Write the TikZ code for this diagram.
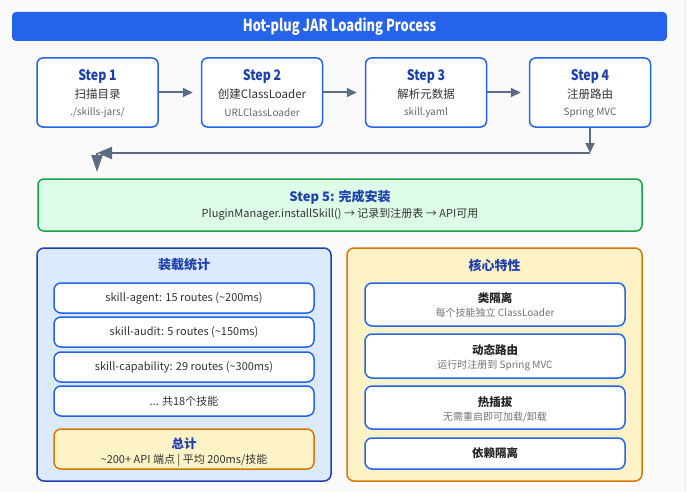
\documentclass[tikz,border=0pt]{standalone}
\usepackage{fontspec}
\setmainfont{Noto Sans CJK SC}
\usetikzlibrary{arrows.meta}
\definecolor{cardbg}{HTML}{FAFAFA}
\definecolor{cardedge}{HTML}{E5E7EB}
\definecolor{mainblue}{HTML}{2563EB}
\definecolor{darkblue}{HTML}{1E40AF}
\definecolor{arrowc}{HTML}{5B6B82}
\definecolor{txtdark}{HTML}{333333}
\definecolor{txtgray}{HTML}{5F6670}
\definecolor{greenfill}{HTML}{DCFCE7}
\definecolor{greenedge}{HTML}{16A34A}
\definecolor{bluefill}{HTML}{DBEAFE}
\definecolor{yelfill}{HTML}{FEF3C7}
\definecolor{orangeedge}{HTML}{D97706}
\newcommand{\narrowtxt}[2]{\scalebox{#1}[1]{#2}}
\tikzset{
  titlebar/.style={fill=mainblue, rounded corners=4pt, minimum width=655pt, minimum height=29pt, inner sep=0pt,
    text=white, font=\fontsize{16.5}{19}\selectfont\bfseries},
  stepbox/.style={draw=mainblue, fill=white, line width=1.5pt, rounded corners=6pt, minimum width=121pt, minimum height=69pt, inner sep=0pt},
  ttl/.style={text=darkblue, font=\fontsize{14.5}{17}\selectfont\bfseries, inner sep=0pt},
  mid/.style={text=txtdark, font=\fontsize{11.5}{14}\selectfont, inner sep=0pt},
  sub/.style={text=txtgray, font=\fontsize{10}{12}\selectfont, inner sep=0pt},
  arr/.style={draw=arrowc, line width=2pt, -{Triangle[length=10pt,width=9pt]}},
  panel/.style={line width=1.5pt, rounded corners=7pt, minimum width=294pt, minimum height=233pt, inner sep=0pt},
  itembox/.style={draw=mainblue, fill=white, line width=1.5pt, rounded corners=7pt, minimum width=260pt, inner sep=0pt},
  itemtxt/.style={text=txtdark, font=\fontsize{11}{13}\selectfont, inner sep=0pt},
  ptitle/.style={text=darkblue, font=\fontsize{13}{15}\selectfont\bfseries, inner sep=0pt},
  ftitle/.style={text=black!85, font=\fontsize{11.5}{14}\selectfont\bfseries, inner sep=0pt},
}
\begin{document}
\begin{tikzpicture}[x=1pt,y=-1pt]
\useasboundingbox (0,0) rectangle (690,492);
\fill[white] (0,0) rectangle (690,492);
\begin{scope}
\clip (0,0) rectangle (690,492);
\draw[rounded corners=8pt, fill=cardbg, draw=cardedge, line width=1pt] (-10,-10) rectangle (685,502);
\end{scope}

\node[titlebar] (title) at (339.5,26.5) {\narrowtxt{0.78}{Hot-plug JAR Loading Process}};

% steps
\node[stepbox] (s1) at (97.5,92.5) {};
\node[stepbox] (s2) at (262,92.5) {};
\node[stepbox] (s3) at (426,92.5) {};
\node[stepbox] (s4) at (590,92.5) {};
\node[ttl] (s1a) at ([yshift=16pt]s1.center) {\narrowtxt{0.85}{Step 1}};
\node[mid] (s1b) at ([yshift=-2pt]s1.center) {扫描目录};
\node[sub] (s1c) at ([yshift=-20pt]s1.center) {./skills-jars/};
\node[ttl] (s2a) at ([yshift=16pt]s2.center) {\narrowtxt{0.85}{Step 2}};
\node[mid] (s2b) at ([yshift=-2pt]s2.center) {创建ClassLoader};
\node[sub] (s2c) at ([yshift=-20pt]s2.center) {URLClassLoader};
\node[ttl] (s3a) at ([yshift=16pt]s3.center) {\narrowtxt{0.85}{Step 3}};
\node[mid] (s3b) at ([yshift=-2pt]s3.center) {解析元数据};
\node[sub] (s3c) at ([yshift=-20pt]s3.center) {skill.yaml};
\node[ttl] (s4a) at ([yshift=16pt]s4.center) {\narrowtxt{0.85}{Step 4}};
\node[mid] (s4b) at ([yshift=-2pt]s4.center) {注册路由};
\node[sub] (s4c) at ([yshift=-20pt]s4.center) {Spring MVC};

\draw[arr, shorten >=8pt] (s1.east) -- (s2.west);
\draw[arr, shorten >=8pt] (s2.east) -- (s3.west);
\draw[arr, shorten >=8pt] (s3.east) -- (s4.west);

% return path
\coordinate (r1) at (590,153);
\coordinate (r2) at (97,153);
\coordinate (r3) at (97,172);
\draw[arr] (s4.south) -- (r1);
\draw[arr, -{Triangle[length=15pt,width=12pt]}] (r1) -- (r2);
\draw[arr, -{Triangle[length=17pt,width=11pt]}] (r2) -- (r3);

% step 5
\node[draw=greenedge, fill=greenfill, line width=1.5pt, rounded corners=6pt, minimum width=604pt, minimum height=52pt, inner sep=0pt] (s5) at (340,205) {};
\node[ttl, font=\fontsize{13}{15}\selectfont\bfseries] (s5a) at ([yshift=8pt]s5.center) {Step 5: 完成安装};
\node[mid, font=\fontsize{11}{13}\selectfont] (s5b) at ([yshift=-9.5pt]s5.center) {PluginManager.installSkill() → 记录到注册表 → API可用};

% left panel
\node[panel, draw=darkblue, fill=bluefill] (lp) at (184,364.5) {};
\node[ptitle] (lpt) at (184,265) {装载统计};
\node[itembox, minimum height=30pt] (l1) at (184,298) {};
\node[itemtxt] (l1t) at (l1.center) {skill-agent: 15 routes (\textasciitilde200ms)};
\node[itembox, minimum height=30pt] (l2) at (184,332) {};
\node[itemtxt] (l2t) at (l2.center) {skill-audit: 5 routes (\textasciitilde150ms)};
\node[itembox, minimum height=30pt] (l3) at (184,367) {};
\node[itemtxt] (l3t) at (l3.center) {skill-capability: 29 routes (\textasciitilde300ms)};
\node[itembox, minimum height=30pt] (l4) at (184,401) {};
\node[itemtxt] (l4t) at (l4.center) {... 共18个技能};
\node[itembox, draw=orangeedge, fill=yelfill, minimum height=40pt] (tot) at (184,449) {};
\node[ptitle, font=\fontsize{12.5}{15}\selectfont\bfseries] (tott) at (184,444) {总计};
\node[itemtxt] (tots) at (184,460) {\textasciitilde200+ API 端点 | 平均 200ms/技能};

% right panel
\node[panel, draw=orangeedge, fill=yelfill, minimum width=295pt] (rp) at (494.5,364.5) {};
\node[ptitle] (rpt) at (494.5,265) {核心特性};
\node[itembox, minimum height=43pt] (f1) at (495,304.5) {};
\node[ftitle] (f1a) at (495,298) {类隔离};
\node[sub, text=gray!90!black] (f1b) at (495,313) {每个技能独立 ClassLoader};
\node[itembox, minimum height=44pt] (f2) at (495,356) {};
\node[ftitle] (f2a) at (495,350) {动态路由};
\node[sub, text=gray!90!black] (f2b) at (495,366) {运行时注册到 Spring MVC};
\node[itembox, minimum height=43pt] (f3) at (495,407.5) {};
\node[ftitle] (f3a) at (495,402) {热插拔};
\node[sub, text=gray!90!black] (f3b) at (495,417) {无需重启即可加载/卸载};
\node[itembox, minimum height=31pt] (f4) at (495,453.5) {};
\node[ftitle] (f4a) at (495,453.5) {依赖隔离};
\end{tikzpicture}
\end{document}
